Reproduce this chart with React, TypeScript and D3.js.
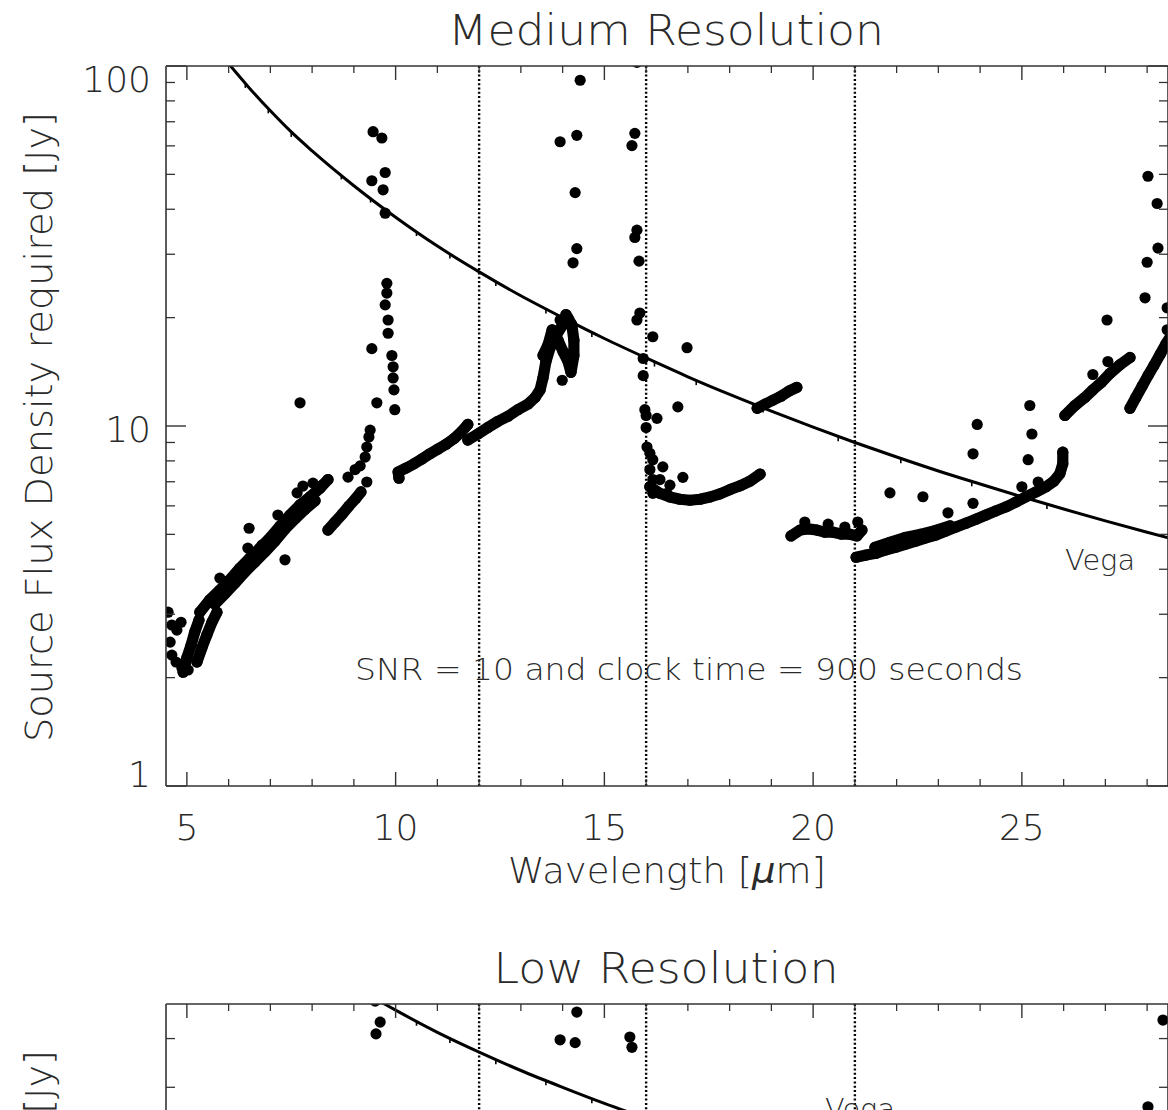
import React from "react";
import * as d3 from "d3";

type P = [number, number];

// ---------- data (wavelength in micron, flux density in Jy) ----------
const vegaWave = [6.0, 6.5, 7.0, 7.5, 8.0, 9.0, 10.0, 11.0, 12.0, 13.0, 14.0, 15.0, 16.0, 17.0, 18.0, 19.0, 20.0, 21.0, 22.0, 23.0, 24.0, 25.0, 26.0, 27.0, 28.0, 28.6];
const vegaFlux = [101.5, 86.8, 75.1, 65.6, 58.1, 46.5, 38.0, 31.6, 26.8, 23.0, 20.0, 17.5, 15.45, 13.7, 12.24, 11.0, 9.93, 9.0, 8.2, 7.5, 6.9, 6.36, 5.88, 5.45, 5.07, 4.86];
// small absorption notches on the Vega curve
const vegaNotches = [6.4, 6.95, 7.5, 8.7, 9.4, 10.5, 11.3, 12.4, 13.6, 14.7, 16.2, 17.2, 18.8, 20.6, 22.1, 23.8, 25.6];

const dividerWaves = [12, 16, 21];
const xMajorTicks = [5, 10, 15, 20, 25];
const xMinorTicks = [6, 7, 8, 9, 11, 12, 13, 14, 16, 17, 18, 19, 21, 22, 23, 24, 26, 27, 28];

// medium resolution: continuous runs of points
const medA1: P[] = [[4.91, 2.07], [5.0, 2.27], [5.1, 2.46], [5.19, 2.68], [5.29, 2.89]];
const medA2: P[] = [[5.24, 2.21], [5.36, 2.42], [5.48, 2.63], [5.6, 2.85], [5.72, 3.04]];
const medB1: P[] = [[5.31, 3.04], [5.55, 3.29], [5.79, 3.5], [6.03, 3.74], [6.27, 4.03], [6.51, 4.3], [6.75, 4.58], [6.99, 4.89], [7.23, 5.27], [7.47, 5.66], [7.71, 6.04], [7.95, 6.36], [8.19, 6.72], [8.38, 7.1]];
const medB2: P[] = [[5.67, 3.2], [5.91, 3.42], [6.15, 3.66], [6.39, 3.93], [6.63, 4.19], [6.87, 4.47], [7.11, 4.79], [7.35, 5.17], [7.59, 5.52], [7.83, 5.87], [8.07, 6.2]];
const medC: P[] = [[8.38, 5.14], [8.55, 5.41], [8.72, 5.69], [8.88, 5.99], [9.05, 6.3], [9.17, 6.56]];
const medD: P[] = [[10.08, 7.16], [10.06, 7.45], [10.25, 7.64], [10.44, 7.85], [10.63, 8.1], [10.82, 8.37], [11.01, 8.62], [11.21, 8.9], [11.4, 9.23], [11.59, 9.67], [11.73, 10.1]];
const medE: P[] = [[11.73, 9.14], [11.97, 9.5], [12.21, 9.9], [12.45, 10.3], [12.69, 10.64], [12.93, 11.1], [13.17, 11.5], [13.34, 12.0], [13.46, 12.6], [13.53, 13.6], [13.6, 15.1], [13.7, 16.5], [13.84, 17.8], [13.99, 19.0], [14.13, 19.9]];
const medE2: P[] = [[13.53, 15.7], [13.65, 16.8], [13.75, 18.5], [13.89, 17.3], [14.01, 16.1], [14.13, 15.1], [14.2, 14.1], [14.27, 15.7], [14.27, 17.3], [14.22, 19.1], [14.08, 20.4]];
const medG: P[] = [[16.09, 6.78], [16.33, 6.5], [16.57, 6.35], [16.81, 6.26], [17.05, 6.22], [17.29, 6.26], [17.53, 6.35], [17.77, 6.48], [18.01, 6.66], [18.25, 6.82], [18.49, 7.03], [18.73, 7.35]];
const medH: P[] = [[18.66, 11.2], [18.85, 11.5], [19.04, 11.8], [19.23, 12.1], [19.42, 12.5], [19.61, 12.8]];
const medI: P[] = [[19.47, 4.95], [19.69, 5.14], [19.88, 5.18], [20.09, 5.14], [20.28, 5.07], [20.48, 5.07], [20.67, 5.01], [20.86, 5.01], [21.05, 4.95], [21.17, 5.14]];
const medJ: P[] = [[21.03, 4.32], [21.27, 4.38], [21.51, 4.43], [21.75, 4.53], [21.99, 4.61], [22.22, 4.7], [22.46, 4.79], [22.7, 4.89], [22.94, 4.98], [23.18, 5.11], [23.42, 5.24], [23.66, 5.37], [23.9, 5.51], [24.14, 5.66], [24.38, 5.81], [24.62, 5.96], [24.86, 6.15], [25.1, 6.36], [25.34, 6.56], [25.58, 6.78], [25.77, 7.03], [25.91, 7.37], [25.98, 7.85], [25.98, 8.46]];
const medJ2: P[] = [[21.48, 4.6], [21.84, 4.75], [22.2, 4.9], [22.56, 5.0], [22.92, 5.12], [23.28, 5.28]];
const medK: P[] = [[26.03, 10.7], [26.27, 11.4], [26.51, 12.0], [26.7, 12.6], [26.9, 13.2], [27.11, 14.0], [27.35, 14.8], [27.59, 15.5]];
const medL: P[] = [[27.59, 11.2], [27.73, 12.0], [27.88, 12.9], [28.02, 13.8], [28.16, 14.7], [28.31, 15.8], [28.45, 16.9], [28.6, 18.0]];

// medium resolution: isolated points
const medSingles: P[] = [
  [4.55, 3.04], [4.64, 2.8], [4.76, 2.71], [4.86, 2.85], [4.6, 2.51], [4.64, 2.31], [4.74, 2.21], [4.88, 2.13], [5.03, 2.1],
  [6.49, 5.2], [6.46, 4.58], [5.79, 3.78], [5.95, 3.62], [7.35, 4.25], [7.71, 11.6], [7.64, 6.52], [7.78, 6.81], [8.02, 6.94], [8.24, 6.85], [7.18, 5.66], [6.8, 4.67],
  [8.86, 7.21], [9.03, 7.57], [9.15, 7.75], [9.27, 8.2], [9.31, 8.74], [9.36, 9.32], [9.39, 9.74], [9.31, 6.99], [9.43, 16.4], [9.55, 11.6],
  [9.46, 65.7], [9.67, 63.1], [9.43, 48.0], [9.75, 50.6], [9.7, 45.3], [9.75, 39.0], [9.79, 24.9], [9.79, 23.4], [9.75, 21.7], [9.82, 19.7], [9.82, 18.1], [9.91, 15.7], [9.94, 14.6], [9.94, 13.6], [9.96, 12.6], [9.98, 11.1],
  [13.99, 13.4], [13.94, 19.7],
  [14.42, 91.3], [13.94, 61.6], [14.34, 64.2], [14.3, 44.5], [14.34, 31.1], [14.25, 28.4],
  [15.78, 102.4], [15.73, 65.0], [15.66, 60.1], [15.78, 35.0], [15.73, 33.4], [15.83, 28.7], [15.85, 20.6], [15.78, 19.7], [16.16, 17.7], [16.98, 16.5], [15.93, 15.4], [15.93, 13.8], [16.76, 11.3], [15.97, 11.1], [16.0, 10.7], [16.26, 10.5], [16.0, 9.9], [16.02, 8.74], [16.09, 8.4], [16.16, 8.06], [16.4, 7.7], [16.09, 7.57], [16.16, 7.1], [16.16, 6.5], [16.5, 6.5], [16.88, 7.2], [16.33, 7.1], [16.57, 6.85],
  [19.8, 5.41], [20.36, 5.34], [20.76, 5.24], [21.07, 5.41],
  [21.84, 6.52], [22.63, 6.36], [23.23, 5.74], [23.83, 6.1], [23.83, 8.37], [23.93, 10.1], [25.19, 11.4], [25.24, 9.5], [25.15, 8.06], [25.39, 6.99], [25.0, 6.78],
  [26.7, 13.9], [27.06, 15.1], [27.04, 19.7],
  [28.02, 49.4], [28.24, 41.5], [28.26, 31.2], [28.0, 28.5], [27.95, 22.7], [28.48, 21.3], [28.48, 18.5]
];

// low resolution (only the top of this panel is in view)
const lowSingles: P[] = [[9.51, 41.0], [9.63, 34.4], [9.53, 31.2], [14.34, 37.4], [13.94, 29.7], [14.3, 29.0], [15.61, 30.4], [15.66, 27.9], [28.38, 35.0], [28.02, 17.0]];

const medYMajor = [1, 10, 100];
const medYMinor = [2, 3, 4, 5, 6, 7, 8, 9, 20, 30, 40, 50, 60, 70, 80, 90];
const lowYMinor = [20, 30];

// ---------- layout ----------
const W = 1168;
const H = 1110;
const X0 = 166;
const X1 = 1168;
const FONT = "'DejaVu Sans', 'Liberation Sans', sans-serif";
const TXT = "#2a2a2a";
const DOT_R = 5.6;

const x = d3.scaleLinear().domain([4.5, 28.5]).range([X0, X1]);

interface PanelCfg {
  id: string;
  top: number;
  bottom: number;
  y: d3.ScaleLogarithmic<number, number>;
  bands: P[][];
  singles: P[];
  yMajor: number[];
  yMinor: number[];
  title: string;
  titleLen: number;
}

function Panel({ cfg }: { cfg: PanelCfg }) {
  const { id, top, bottom, y } = cfg;
  const vega: P[] = vegaWave.map((w, i) => [w, vegaFlux[i]]);
  const line = d3
    .line<P>()
    .x((d) => x(d[0]))
    .y((d) => y(d[1]))
    .curve(d3.curveMonotoneX);
  const bandLine = d3
    .line<P>()
    .x((d) => x(d[0]))
    .y((d) => y(d[1]));
  const vegaAt = d3.scaleLinear<number>().domain(vegaWave).range(vegaFlux);
  const inY = (v: number) => y(v) >= top - 0.5 && y(v) <= bottom + 0.5;
  return (
    <g>
      <defs>
        <clipPath id={`clip-${id}`}>
          <rect x={X0} y={top} width={X1 - X0} height={bottom - top} />
        </clipPath>
      </defs>
      <text x={666} y={top - 21} textAnchor="middle" fontFamily={FONT} fontWeight={200} fontSize={42} fill={TXT} textLength={cfg.titleLen} lengthAdjust="spacingAndGlyphs">
        {cfg.title}
      </text>
      <g clipPath={`url(#clip-${id})`}>
        {dividerWaves.map((w) => (
          <line key={w} x1={x(w)} x2={x(w)} y1={top} y2={bottom} stroke="#000" strokeWidth={2.4} strokeDasharray="2 2.3" />
        ))}
        <path d={line(vega) || ""} fill="none" stroke="#000" strokeWidth={3} />
        {vegaNotches.map((w) => (
          <line key={`n${w}`} x1={x(w)} x2={x(w)} y1={y(vegaAt(w))} y2={y(vegaAt(w)) + 5} stroke="#000" strokeWidth={1.6} />
        ))}
        {cfg.bands.map((b, i) => (
          <path key={i} d={bandLine(b) || ""} fill="none" stroke="#000" strokeWidth={DOT_R * 2} strokeLinecap="round" strokeLinejoin="round" />
        ))}
        {cfg.bands.flat().concat(cfg.singles).map((d, i) => (
          <circle key={i} cx={x(d[0])} cy={y(d[1])} r={DOT_R} fill="#000" />
        ))}
      </g>
      {/* axes box */}
      <line x1={X0} x2={X1} y1={top} y2={top} stroke="#333" strokeWidth={1.6} />
      <line x1={X0} x2={X1} y1={bottom} y2={bottom} stroke="#333" strokeWidth={1.6} />
      <line x1={X0} x2={X0} y1={top} y2={bottom} stroke="#333" strokeWidth={1.6} />
      <line x1={X1} x2={X1} y1={top} y2={bottom} stroke="#333" strokeWidth={1.6} />
      {xMajorTicks.map((t) => (
        <g key={`xM${t}`}>
          <line x1={x(t)} x2={x(t)} y1={bottom} y2={bottom - 14} stroke="#333" strokeWidth={1.4} />
          <line x1={x(t)} x2={x(t)} y1={top} y2={top + 14} stroke="#333" strokeWidth={1.4} />
        </g>
      ))}
      {xMinorTicks.map((t) => (
        <g key={`xm${t}`}>
          <line x1={x(t)} x2={x(t)} y1={bottom} y2={bottom - 7} stroke="#333" strokeWidth={1.3} />
          <line x1={x(t)} x2={x(t)} y1={top} y2={top + 7} stroke="#333" strokeWidth={1.3} />
        </g>
      ))}
      {cfg.yMajor.filter(inY).map((t) => (
        <g key={`yM${t}`}>
          <line x1={X0} x2={X0 + 20} y1={y(t)} y2={y(t)} stroke="#333" strokeWidth={1.4} />
          <line x1={X1} x2={X1 - 20} y1={y(t)} y2={y(t)} stroke="#333" strokeWidth={1.4} />
        </g>
      ))}
      {cfg.yMinor.filter(inY).map((t) => (
        <g key={`ym${t}`}>
          <line x1={X0} x2={X0 + 9} y1={y(t)} y2={y(t)} stroke="#333" strokeWidth={1.3} />
          <line x1={X1} x2={X1 - 9} y1={y(t)} y2={y(t)} stroke="#333" strokeWidth={1.3} />
        </g>
      ))}
      <text transform={`translate(52, ${top + 361}) rotate(-90)`} textAnchor="middle" fontFamily={FONT} fontWeight={200} fontSize={37} fill={TXT} textLength={630} lengthAdjust="spacingAndGlyphs">
        Source Flux Density required [Jy]
      </text>
    </g>
  );
}

export default function App() {
  const yMed = d3.scaleLog().domain([1, 100]).range([786, 66]);
  const yLow = d3.scaleLog().domain([0.1, 40]).range([1004 + 720, 1004]);
  const med: PanelCfg = {
    id: "med",
    top: 66,
    bottom: 786,
    y: yMed,
    bands: [medA1, medA2, medB1, medB2, medC, medD, medE, medE2, medG, medH, medI, medJ, medJ2, medK, medL],
    singles: medSingles,
    yMajor: medYMajor,
    yMinor: medYMinor,
    title: "Medium Resolution",
    titleLen: 436,
  };
  const low: PanelCfg = {
    id: "low",
    top: 1004,
    bottom: 1004 + 720,
    y: yLow,
    bands: [],
    singles: lowSingles,
    yMajor: [],
    yMinor: lowYMinor,
    title: "Low Resolution",
    titleLen: 345,
  };
  const yLabelPos: [string, number][] = [["100", 92], ["10", 442], ["1", 787]];
  return (
    <div style={{ position: "absolute", left: 0, top: 0, width: W, height: H, overflow: "hidden", background: "#fff" }}>
      <svg width={W} height={H} viewBox={`0 0 ${W} ${H}`} style={{ display: "block" }}>
        <rect x={0} y={0} width={W} height={H} fill="#fff" />
        <Panel cfg={med} />
        <Panel cfg={low} />
        {xMajorTicks.map((t) => (
          <text key={t} x={x(t)} y={840} textAnchor="middle" fontFamily={FONT} fontWeight={200} fontSize={36} fill={TXT}>
            {t}
          </text>
        ))}
        {yLabelPos.map(([s, yy]) => (
          <text key={s} x={151} y={yy} textAnchor="end" fontFamily={FONT} fontWeight={200} fontSize={36} fill={TXT}>
            {s}
          </text>
        ))}
        <text x={667} y={883} textAnchor="middle" fontFamily={FONT} fontWeight={200} fontSize={36} fill={TXT} textLength={318} lengthAdjust="spacingAndGlyphs">
          Wavelength [<tspan fontStyle="italic">μ</tspan>m]
        </text>
        <text x={1065} y={570} fontFamily={FONT} fontWeight={200} fontSize={29} fill={TXT} textLength={70} lengthAdjust="spacingAndGlyphs">
          Vega
        </text>
        <text x={355} y={680} fontFamily={FONT} fontWeight={200} fontSize={30} fill={TXT} textLength={668} lengthAdjust="spacingAndGlyphs">
          SNR = 10 and clock time = 900 seconds
        </text>
        <text x={825} y={1119} fontFamily={FONT} fontWeight={200} fontSize={29} fill={TXT} textLength={70} lengthAdjust="spacingAndGlyphs">
          Vega
        </text>
      </svg>
    </div>
  );
}
